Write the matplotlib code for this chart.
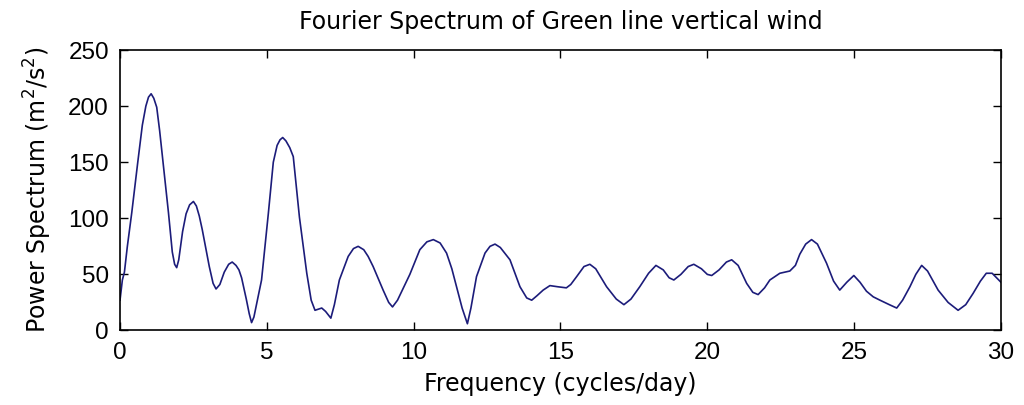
import matplotlib.pyplot as plt

plt.rcParams['font.family'] = ['DejaVu Sans']
plt.rcParams['mathtext.fontset'] = 'dejavusans'

# spectrum samples: frequency (cycles/day) and power (m^2/s^2)
freq = [0.0, 0.08, 0.15, 0.25, 0.4, 0.6, 0.76, 0.88, 0.97, 1.06, 1.15, 1.25, 1.35,
        1.47, 1.65, 1.78, 1.86, 1.93, 2.0, 2.13, 2.25, 2.37, 2.5, 2.6, 2.7, 2.8,
        3.04, 3.17, 3.27, 3.4, 3.55, 3.7, 3.82, 3.95, 4.05, 4.14, 4.3, 4.4, 4.48,
        4.56, 4.7, 4.82, 5.05, 5.22, 5.35, 5.45, 5.54, 5.65, 5.78, 5.9, 6.11,
        6.36, 6.51, 6.64, 6.75, 6.87, 7.0, 7.18, 7.3, 7.47, 7.77, 7.95, 8.11,
        8.3, 8.45, 8.62, 8.96, 9.15, 9.28, 9.45, 9.65, 9.87, 10.21, 10.45, 10.67,
        10.9, 11.12, 11.3, 11.46, 11.65, 11.83, 11.95, 12.14, 12.43, 12.6, 12.77,
        12.95, 13.28, 13.62, 13.85, 14.02, 14.2, 14.41, 14.64, 14.9, 15.2, 15.35,
        15.55, 15.8, 16.0, 16.2, 16.57, 16.9, 17.16, 17.4, 17.7, 18.0, 18.25,
        18.5, 18.7, 18.86, 19.1, 19.35, 19.54, 19.8, 20.0, 20.15, 20.4, 20.65,
        20.83, 21.05, 21.34, 21.55, 21.73, 21.95, 22.13, 22.47, 22.81, 23.0,
        23.15, 23.35, 23.55, 23.75, 24.06, 24.3, 24.51, 24.75, 24.99, 25.2,
        25.42, 25.65, 25.88, 26.2, 26.45, 26.65, 26.9, 27.1, 27.3, 27.5, 27.86,
        28.2, 28.54, 28.8, 29.05, 29.3, 29.5, 29.7, 29.85, 30.0]
power = [27, 45, 52, 75, 105, 149, 183, 200, 208, 211, 207, 199, 178,
         149, 105, 70, 59, 56, 63, 88, 104, 112, 115, 111, 102, 90,
         57, 42, 37, 41, 52, 59, 61, 58, 54, 47, 28, 15, 7,
         12, 30, 45, 104, 150, 165, 170, 172, 169, 163, 155, 101,
         51, 27, 18, 19, 20, 17, 11, 23, 45, 66, 73, 75,
         72, 66, 57, 36, 25, 21, 27, 38, 50, 72, 79, 81,
         78, 69, 55, 39, 20, 6, 20, 48, 69, 75, 77,
         74, 63, 39, 29, 27, 31, 36, 40, 39, 38, 41,
         48, 57, 59, 55, 39, 28, 23, 28, 39, 51, 58,
         54, 47, 45, 50, 57, 59, 55, 50, 49, 54, 61,
         63, 58, 42, 34, 32, 38, 45, 51, 53, 58,
         68, 77, 81, 77, 60, 44, 36, 43, 49, 43,
         35, 30, 27, 23, 20, 27, 39, 50, 58, 53, 36,
         25, 18, 23, 33, 44, 51, 51, 47, 43]

fig = plt.figure(figsize=(10.24, 4.05), dpi=100)
ax = fig.add_axes([0.1172, 0.184, 0.8603, 0.6925])

ax.plot(freq, power, color='#1c1c7a', linewidth=1.2)

ax.set_xlim(0, 30)
ax.set_ylim(0, 250)
ax.set_xticks(range(0, 31, 5))
ax.set_yticks(range(0, 251, 50))
ax.tick_params(direction='in', length=6, width=1, top=True, right=True, pad=8)
for lab in ax.get_xticklabels() + ax.get_yticklabels():
    lab.set_fontfamily('Liberation Sans')
    lab.set_fontsize(17.5)
for s in ax.spines.values():
    s.set_linewidth(1.2)

ax.set_title('Fourier Spectrum of Green line vertical wind', fontsize=17, pad=15)
ax.set_xlabel('Frequency (cycles/day)', fontsize=17, labelpad=6)
ax.set_ylabel('Power Spectrum (m$^2$/s$^2$)', fontsize=17, labelpad=10)

fig.savefig('out.png', dpi=100)
